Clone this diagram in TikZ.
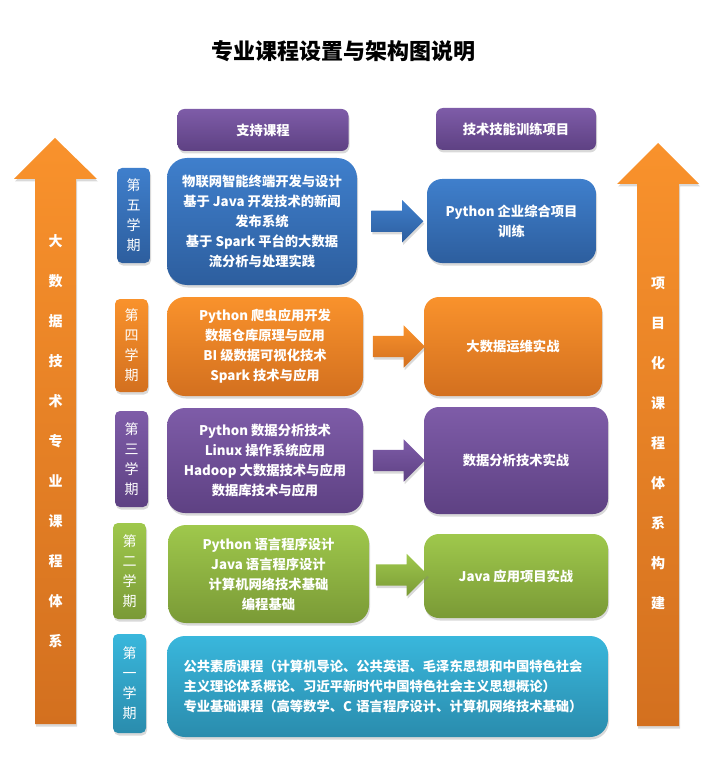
\documentclass[tikz,border=0pt]{standalone}
\usepackage{fontspec}
\setmainfont{Noto Sans CJK SC}
\usetikzlibrary{positioning,calc,shapes.arrows,shadows}
\definecolor{planInk}{HTML}{000000}
\definecolor{planBlueTop}{HTML}{3F7FCC}
\definecolor{planBlueBot}{HTML}{2D5E9E}
\definecolor{planOrangeTop}{HTML}{F9922C}
\definecolor{planOrangeBot}{HTML}{D3701F}
\definecolor{planPurpleTop}{HTML}{7E5CA8}
\definecolor{planPurpleBot}{HTML}{5E4183}
\definecolor{planGreenTop}{HTML}{9FC84C}
\definecolor{planGreenBot}{HTML}{7A9A36}
\definecolor{planCyanTop}{HTML}{39B7DC}
\definecolor{planCyanBot}{HTML}{2A8CAD}
\tikzset{
  plan/blue/.style={top color=planBlueTop, bottom color=planBlueBot},
  plan/orange/.style={top color=planOrangeTop, bottom color=planOrangeBot},
  plan/purple/.style={top color=planPurpleTop, bottom color=planPurpleBot},
  plan/green/.style={top color=planGreenTop, bottom color=planGreenBot},
  plan/cyan/.style={top color=planCyanTop, bottom color=planCyanBot},
  plan/shadow/.style={drop shadow={shadow xshift=1pt, shadow yshift=-2.5pt,
    opacity=0.3}},
  plan/box/.style={plan/shadow, draw=none, align=center, inner sep=0pt,
    text=white, font=\fontsize{13.3}{20}\selectfont\bfseries},
  plan/course/.style={plan/box, rounded corners=18pt},
  plan/project/.style={plan/box, rounded corners=15pt},
  plan/term/.style={plan/box, rounded corners=5pt, minimum width=33pt,
    font=\fontsize{14}{20}\selectfont},
  plan/header/.style={plan/box, plan/purple, rounded corners=7pt,
    minimum height=42pt},
  plan/flow/.style={plan/shadow, single arrow, single arrow head extend=10.5pt,
    inner sep=0pt, inner ysep=10.5pt, minimum height=52pt},
  % the two spines are plain shaded outlines, their words sit on top
  plan/spine/.style={plan/shadow, plan/orange},
  plan/spinetext/.style={text=white, align=center,
    font=\fontsize{14}{40}\selectfont\bfseries},
  plan/title/.style={text=planInk, font=\fontsize{22}{26}\selectfont\bfseries},
}

\begin{document}
\begin{tikzpicture}[x=1pt, y=-1pt]
\useasboundingbox (0,0) rectangle (716,759);

\node[plan/title] (title) at (343,51) {专业课程设置与架构图说明};

\node[plan/header, minimum width=171pt] (hcourse) at (263,130) {支持课程};
\node[plan/header, minimum width=160pt] (hproject) at (516,129) {技术技能训练项目};

% spines
\path[plan/spine] (35,724) -- (35,179) -- (14,179) -- (55,138) -- (97,179)
  -- (76,179) -- (76,724) -- cycle;
\path[plan/spine] (637,726) -- (637,184) -- (617,184) -- (658,143) -- (699,184)
  -- (679,184) -- (679,726) -- cycle;
\node[plan/spinetext] (lspine) at (55.5,441)
  {大\\数\\据\\技\\术\\专\\业\\课\\程\\体\\系};
\node[plan/spinetext] (rspine) at (658,443)
  {项\\目\\化\\课\\程\\体\\系\\构\\建};

\node[plan/term, plan/blue, minimum height=95pt] (s5) at (133.5,215.5) {第\\五\\学\\期};
\node[plan/term, plan/orange, minimum height=93pt] (s4) at (131.5,345.5) {第\\四\\学\\期};
\node[plan/term, plan/purple, minimum height=96pt] (s3) at (131.5,459) {第\\三\\学\\期};
\node[plan/term, plan/green, minimum height=96pt] (s2) at (129.5,571) {第\\二\\学\\期};
\node[plan/term, plan/cyan, minimum height=99pt] (s1) at (129.5,683.5) {第\\一\\学\\期};

\node[plan/course, plan/blue, minimum width=190pt, minimum height=127pt,
  rounded corners=20pt] (c5) at (262,221.5)
  {物联网智能终端开发与设计\\基于 Java 开发技术的新闻\\发布系统\\基于 Spark 平台的大数据\\流分析与处理实践};
\node[plan/course, plan/orange, minimum width=196pt, minimum height=99pt] (c4) at (265,346.5)
  {Python 爬虫应用开发\\数据仓库原理与应用\\BI 级数据可视化技术\\Spark 技术与应用};
\node[plan/course, plan/purple, minimum width=196pt, minimum height=105pt] (c3) at (265,460.5)
  {Python 数据分析技术\\Linux 操作系统应用\\Hadoop 大数据技术与应用\\数据库技术与应用};
\node[plan/course, plan/green, minimum width=201pt, minimum height=98pt] (c2) at (268.5,574)
  {Python 语言程序设计\\Java 语言程序设计\\计算机网络技术基础\\编程基础};
\node[plan/course, plan/cyan, minimum width=441pt, minimum height=101pt,
  align=left, text width=408pt] (c1) at (387.5,686.5)
  {公共素质课程（计算机导论、公共英语、毛泽东思想和中国特色社会\\主义理论体系概论、习近平新时代中国特色社会主义思想概论）\\专业基础课程（高等数学、C 语言程序设计、计算机网络技术基础）};

\node[plan/project, plan/blue, minimum width=169pt, minimum height=84pt] (t5) at (511.5,221)
  {Python 企业综合项目\\训练};
\node[plan/project, plan/orange, minimum width=178pt, minimum height=99pt] (t4) at (513,346.5)
  {大数据运维实战};
\node[plan/project, plan/purple, minimum width=184pt, minimum height=107pt] (t3) at (516,460.5)
  {数据分析技术实战};
\node[plan/project, plan/green, minimum width=184pt, minimum height=84pt] (t2) at (516,576)
  {Java 应用项目实战};

\node[plan/flow, plan/blue] (a5) at ($(c5.east)!0.5!(t5.west)$) {};
\node[plan/flow, plan/orange] (a4) at ($(c4.east)!0.5!(t4.west)$) {};
\node[plan/flow, plan/purple] (a3) at ($(c3.east)!0.5!(t3.west)$) {};
\node[plan/flow, plan/green] (a2) at ($(c2.east)!0.5!(t2.west)$) {};
\end{tikzpicture}
\end{document}
